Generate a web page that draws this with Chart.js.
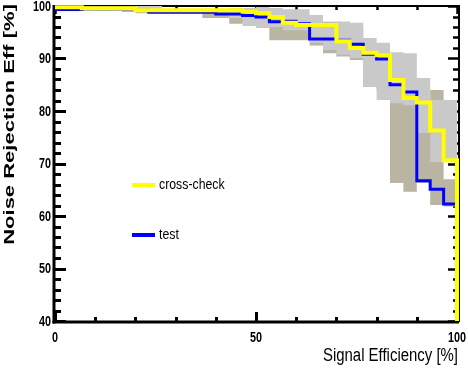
<!DOCTYPE html>
<html><head><meta charset="utf-8">
<script src="https://cdn.jsdelivr.net/npm/chart.js@4"></script>
<style>html,body{margin:0;padding:0;background:#fff;}</style>
</head><body>
<canvas id="c" width="468" height="372"></canvas>
<script>
// ---- data ----
const signalEff = [0, 3.33, 6.67, 10, 13.33, 16.67, 20, 23.33, 26.67, 30,
  33.33, 36.67, 40, 43.33, 46.67, 50, 53.33, 56.67, 60, 63.33,
  66.67, 70, 73.33, 76.67, 80, 83.33, 86.67, 90, 93.33, 96.67];
const effEnd = 100;
const crossCheck = [99.75, 99.75, 99.55, 99.55, 99.55, 99.55, 99.2, 99.2, 99.2, 99.2,
  99.2, 99.2, 99.2, 99.2, 98.9, 98.6, 97.9, 96.8, 96.4, 96.4,
  96.4, 93.3, 92.0, 91.1, 90.6, 85.9, 82.5, 81.6, 76.3, 70.6];
const test = [99.35, 99.35, 99.5, 99.5, 99.5, 99.5, 99.2, 98.8, 98.8, 98.8,
  98.8, 98.8, 98.5, 98.5, 98.2, 97.9, 97.0, 97.1, 96.6, 93.7,
  93.7, 93.5, 92.7, 90.8, 89.9, 85.0, 83.6, 66.7, 65.1, 62.3];
const crossCheckLow = [99.4, 99.4, 99.4, 99.4, 99.4, 99.4, 99.0, 99.0, 98.9, 98.9,
  98.9, 98.9, 98.9, 97.7, 96.2, 95.8, 96.0, 95.4, 95.4, 93.0,
  91.6, 90.7, 90.1, 84.6, 82.1, 81.5, 81.1, 75.8, 70.3, 70.3];
const crossCheckHigh = [99.9, 99.9, 99.9, 99.9, 99.9, 99.9, 100, 100, 99.5, 99.5,
  99.5, 99.5, 99.5, 99.6, 99.6, 99.8, 99.6, 99.4, 99.4, 98.3,
  96.8, 97.0, 96.8, 93.9, 93.0, 91.2, 91.0, 86.3, 82.1, 82.1];
const testLow = [99.1, 99.1, 99.1, 99.1, 99.1, 98.85, 98.6, 98.6, 98.6, 98.6,
  98.6, 97.7, 97.7, 96.6, 96.8, 96.8, 93.5, 93.5, 93.5, 92.5,
  91.0, 90.4, 89.7, 84.6, 84.0, 66.3, 64.6, 66.3, 62.1, 61.8];
const testHigh = [99.6, 99.6, 99.6, 99.6, 99.6, 99.6, 99.3, 99.3, 99.3, 99.3,
  99.3, 99.0, 99.0, 98.8, 98.8, 98.6, 97.5, 97.5, 97.5, 96.5,
  97.0, 97.0, 96.0, 93.0, 92.8, 88.0, 86.0, 82.0, 84.0, 67.0];
const xTickValues = [0, 50, 100];
const yTickValues = [40, 50, 60, 70, 80, 90, 100];
const seriesNames = ['cross-check', 'test'];
const xTitle = 'Signal Efficiency [%]';
const yTitle = 'Noise Rejection Eff [%]';

const SANS = '"Liberation Sans", Arial, sans-serif';
const COL_YELLOW = '#ffff00', COL_BLUE = '#0000ff', COL_GRAY = '#c9c9c9', COL_TAN = '#bab4a2';

function stepPoints(vals, drop) {
  const pts = signalEff.map((x, i) => ({x: x, y: vals[i]}));
  pts.push({x: effEnd, y: vals[vals.length - 1]});
  if (drop !== undefined) pts.push({x: effEnd, y: drop});
  return pts;
}
const base = {stepped: true, pointRadius: 0, pointHoverRadius: 0, tension: 0, clip: false};
const bandEdge = Object.assign({}, base, {borderColor: 'rgba(0,0,0,0)', borderWidth: 0});

function narrowText(ctx, text, x, y, font, sx, align, baseline) {
  ctx.save();
  ctx.translate(x, y);
  ctx.scale(sx, 1);
  ctx.font = font;
  ctx.textAlign = align;
  ctx.textBaseline = baseline;
  ctx.fillText(text, 0, 0);
  ctx.restore();
}

const framePlugin = {
  id: 'frame',
  beforeDatasetsDraw(chart) {
    const ctx = chart.ctx, xs = chart.scales.x, ys = chart.scales.y;
    const L = 54, R = 459, T = 6, B = 322;
    ctx.save();
    ctx.strokeStyle = '#000';
    ctx.lineCap = 'butt';
    ctx.lineWidth = 3;
    ctx.beginPath(); ctx.moveTo(L, T - 1); ctx.lineTo(L, B + 1.5); ctx.stroke();
    ctx.beginPath(); ctx.moveTo(L - 1.5, B); ctx.lineTo(R, B); ctx.stroke();
    ctx.lineWidth = 2;
    ctx.beginPath(); ctx.moveTo(L, T); ctx.lineTo(R + 1, T); ctx.stroke();
    ctx.beginPath(); ctx.moveTo(R, T); ctx.lineTo(R, B); ctx.stroke();
    for (let v = 40; v <= 100; v += 2) {
      const y = Math.round(ys.getPixelForValue(v)) + 0.5;
      const major = v % 10 === 0;
      ctx.lineWidth = 3;
      ctx.beginPath(); ctx.moveTo(L, y); ctx.lineTo(L + (major ? 12 : 7), y); ctx.stroke();
      ctx.lineWidth = 2.5;
      ctx.beginPath(); ctx.moveTo(R, y); ctx.lineTo(R - (major ? 11 : 6), y); ctx.stroke();
    }
    for (let v = 0; v <= 100; v += 10) {
      const x = Math.round(xs.getPixelForValue(v)) + 0.5;
      const major = v % 50 === 0;
      ctx.lineWidth = 3;
      ctx.beginPath(); ctx.moveTo(x, B); ctx.lineTo(x, B - (major ? 10 : 5)); ctx.stroke();
      ctx.lineWidth = 2.5;
      ctx.beginPath(); ctx.moveTo(x, T); ctx.lineTo(x, T + (major ? 8 : 4)); ctx.stroke();
    }
    ctx.restore();
  },
  afterDraw(chart) {
    const ctx = chart.ctx, xs = chart.scales.x, ys = chart.scales.y;
    ctx.save();
    ctx.fillStyle = '#000';
    // tick labels
    xTickValues.forEach(v => {
      narrowText(ctx, String(v), xs.getPixelForValue(v), 338, 'bold 15px ' + SANS, 0.72, 'center', 'middle');
    });
    yTickValues.forEach(v => {
      narrowText(ctx, String(v), 51, ys.getPixelForValue(v) + 0.5, 'bold 15px ' + SANS, 0.72, 'right', 'middle');
    });
    // x title
    narrowText(ctx, xTitle, 458, 361, '18px ' + SANS, 0.83, 'right', 'alphabetic');
    // y title (rotated)
    ctx.save();
    ctx.translate(14, 4);
    ctx.rotate(-Math.PI / 2);
    ctx.scale(1, 0.64);
    ctx.font = 'bold 22px ' + SANS;
    ctx.textAlign = 'right';
    ctx.textBaseline = 'alphabetic';
    ctx.fillText(yTitle, 0, 0);
    ctx.restore();
    // legend
    const ds = chart.data.datasets;
    [[0, 185], [1, 235]].forEach(([i, y]) => {
      ctx.strokeStyle = ds[i].borderColor;
      ctx.lineWidth = 4;
      ctx.beginPath(); ctx.moveTo(132, y); ctx.lineTo(155, y); ctx.stroke();
      narrowText(ctx, seriesNames[i], 159, y, '15px ' + SANS, 0.82, 'left', 'middle');
    });
    ctx.restore();
  }
};

new Chart(document.getElementById('c'), {
  type: 'line',
  data: {
    datasets: [
      Object.assign({}, base, {label: seriesNames[0], data: stepPoints(crossCheck, 40),
        borderColor: COL_YELLOW, borderWidth: 4, fill: false}),
      Object.assign({}, base, {label: seriesNames[1], data: stepPoints(test, 40),
        borderColor: COL_BLUE, borderWidth: 3, fill: false}),
      Object.assign({}, bandEdge, {label: 'cc-hi', data: stepPoints(crossCheckHigh), fill: false}),
      Object.assign({}, bandEdge, {label: 'cc-lo', data: stepPoints(crossCheckLow), fill: '-1', backgroundColor: COL_GRAY}),
      Object.assign({}, bandEdge, {label: 't-hi', data: stepPoints(testHigh), fill: false}),
      Object.assign({}, bandEdge, {label: 't-lo', data: stepPoints(testLow), fill: '-1', backgroundColor: COL_TAN})
    ]
  },
  options: {
    responsive: false,
    animation: false,
    devicePixelRatio: 1,
    layout: {padding: {top: 6, right: 11, left: 0, bottom: 0}},
    plugins: {legend: {display: false}, tooltip: {enabled: false}, filler: {propagate: false}},
    scales: {
      x: {
        type: 'linear', min: 0, max: 100,
        afterBuildTicks: s => { s.ticks = xTickValues.map(v => ({value: v})); },
        afterFit: s => { s.height = 51; },
        grid: {display: false}, border: {display: false},
        ticks: {display: false}
      },
      y: {
        type: 'linear', min: 40, max: 100,
        afterBuildTicks: s => { s.ticks = yTickValues.map(v => ({value: v})); },
        afterFit: s => { s.width = 55; },
        grid: {display: false}, border: {display: false},
        ticks: {display: false}
      }
    }
  },
  plugins: [framePlugin]
});
</script>
</body></html>
